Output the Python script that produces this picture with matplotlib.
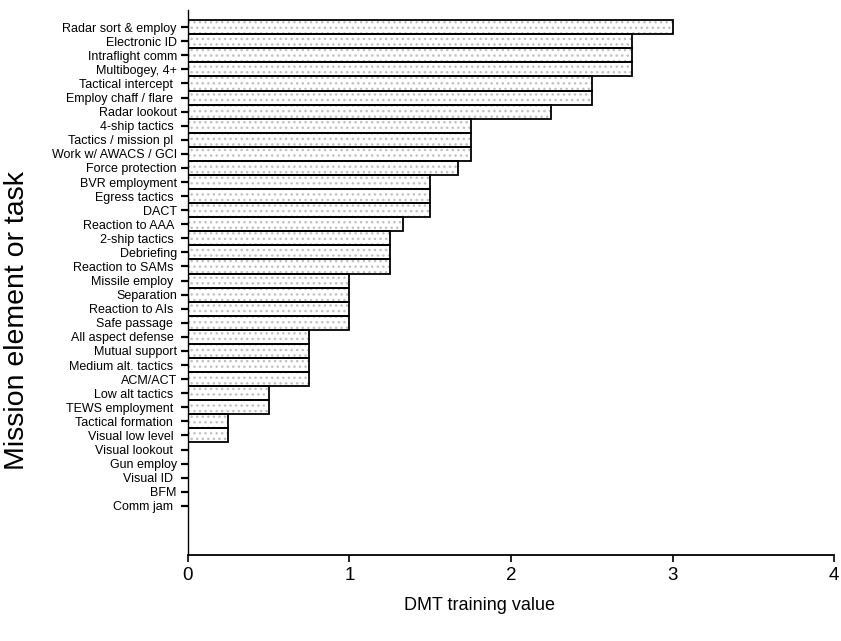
import matplotlib.pyplot as plt
import numpy as np

plt.rcParams['font.family'] = ['Liberation Sans', 'DejaVu Sans']

tasks = ['Radar sort & employ', 'Electronic ID', 'Intraflight comm', 'Multibogey, 4+',
         'Tactical intercept ', 'Employ chaff / flare ', 'Radar lookout', '4-ship tactics ',
         'Tactics / mission pl ', 'Work w/ AWACS / GCI', 'Force protection', 'BVR employment',
         'Egress tactics ', 'DACT', 'Reaction to AAA ', '2-ship tactics ', 'Debriefing',
         'Reaction to SAMs ', 'Missile employ ', 'Separation', 'Reaction to AIs ',
         'Safe passage ', 'All aspect defense ', 'Mutual support', 'Medium alt. tactics ',
         'ACM/ACT', 'Low alt tactics ', 'TEWS employment ', 'Tactical formation ',
         'Visual low level ', 'Visual lookout ', 'Gun employ', 'Visual ID ', 'BFM', 'Comm jam ']
values = [3.0, 2.75, 2.75, 2.75, 2.5, 2.5, 2.25, 1.75, 1.75, 1.75, 1.67, 1.5, 1.5, 1.5,
          1.33, 1.25, 1.25, 1.25, 1.0, 1.0, 1.0, 1.0, 0.75, 0.75, 0.75, 0.75, 0.5, 0.5,
          0.25, 0.25, 0, 0, 0, 0, 0]

fig = plt.figure(figsize=(8.41, 6.41), dpi=100)
ax = fig.add_axes([0.2235, 0.134, 0.7682, 0.85])

y = np.arange(len(tasks))
# stippled fill then black outline
ax.barh(y, values, height=1.0, color='white', edgecolor='#c0c0c0', hatch='...', linewidth=0)
ax.barh(y, values, height=1.0, color='none', edgecolor='black', linewidth=1.3)

ax.set_yticks(y)
ax.set_yticklabels(tasks, fontsize=9)
ax.set_ylim(len(tasks) - 1 + 3.5, -1.2)
ax.set_xlim(0, 4)
ax.set_xticks([0, 1, 2, 3, 4])
ax.tick_params(axis='x', labelsize=13.5, length=5, width=1.2, direction='out')
ax.tick_params(axis='y', length=5, width=1.6, direction='out', pad=3)

ax.spines['top'].set_visible(False)
ax.spines['right'].set_visible(False)
ax.spines['left'].set_linewidth(1.0)
ax.spines['bottom'].set_linewidth(1.3)

fig.text(0.57, 0.056, 'DMT training value', fontsize=13, ha='center', va='center')
fig.text(0.02, 0.5, 'Mission element or task', fontsize=20.5, rotation=90, ha='center', va='center')

plt.savefig('out.png', dpi=100)
